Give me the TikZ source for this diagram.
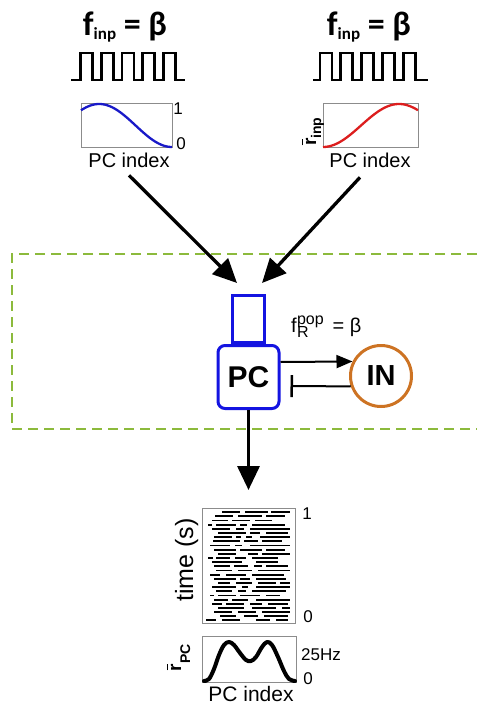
\documentclass[tikz,border=0pt]{standalone}
\usepackage{fontspec}
\setmainfont{Liberation Sans}
\newfontfamily\carlfont{Carlito}
\usetikzlibrary{arrows.meta}
\definecolor{pcblue}{RGB}{20,20,225}
\definecolor{curveblue}{RGB}{25,25,200}
\definecolor{curvered}{RGB}{220,30,30}
\definecolor{inorange}{RGB}{205,115,35}
\definecolor{boxgreen}{RGB}{140,186,60}
\newcommand\rbar{\leavevmode\rlap{\kern0.03em\rule[0.66em]{0.34em}{0.08em}}r}
\newcommand\fsz[1]{\fontsize{#1}{#1}\selectfont}
\begin{document}
\begin{tikzpicture}[x=1pt,y=-1pt,
  txt/.style={inner sep=0pt, outer sep=0pt},
  title/.style={txt, font=\carlfont\bfseries\fsz{34}},
  lab/.style={txt, font=\fsz{20}},
  tck/.style={txt, font=\fsz{17}},
  plotbox/.style={draw=black!45, line width=0.9pt, inner sep=0pt, outer sep=0pt},
  wave/.style={line width=2.8pt},
  bigarrow/.style={line width=3.3pt, -{Triangle[length=24pt,width=22pt]}},
  exc/.style={line width=2pt, -{Triangle[length=16pt,width=13pt]}},
  inh/.style={line width=2pt, -{Bar[width=22pt,line width=2.5pt]}},
  spike/.style={line width=1.9pt},
]
\useasboundingbox (0,0) rectangle (477,706);

% green dashed frame
\draw[boxgreen, line width=2.5pt, dash pattern=on 10pt off 6pt]
  (477,254) -- (12,254) -- (12,429) -- (477,429);

% titles
\node[title, anchor=base] (fL) at (125,36) {f\raisebox{-4pt}{\fsz{17}inp} = β};
\node[title, anchor=base] (fR) at (369,36) {f\raisebox{-4pt}{\fsz{17}inp} = β};

% square waves
\draw[wave] (71,80) foreach \a in {80.7,101.3,122,142.7,163.3} { -- (\a,80) -- (\a,53) -- (\a+12,53) -- (\a+12,80) } -- (185,80);
\draw[wave] (313,80) foreach \a in {320,340.7,361.7,382.3,403.3} { -- (\a,80) -- (\a,53) -- (\a+12,53) -- (\a+12,80) } -- (428,80);

% input profile plots
\node[plotbox, minimum width=91pt, minimum height=44pt] (boxL) at (126.5,125) {};
\node[plotbox, minimum width=95pt, minimum height=44pt] (boxR) at (370.5,125) {};
\draw[curveblue, line width=2.3pt] plot[domain=0:1, samples=60] ({81+91*\x},{147-43*(0.5+0.5*cos(225*(\x-0.2)))});
\draw[curvered, line width=2.3pt] plot[domain=0:1, samples=60] ({323+95*\x},{147-43*(0.5+0.5*cos(225*(0.8-\x)))});
\node[tck] (oneL) at (178,109) {1};
\node[tck] (zeroL) at (181,144) {0};
\node[txt, rotate=90, anchor=base west, font=\bfseries\fsz{19}] (rinp) at (316,146) {\rbar\raisebox{-5pt}{\fsz{14}inp}};
\node[lab] (pcL) at (129,160) {PC index};
\node[lab] (pcR) at (370,160) {PC index};

% PC cell and interneuron
\node[draw=pcblue, line width=3pt, minimum width=61pt, minimum height=63pt, rounded corners=7pt,
      inner sep=0pt, font=\bfseries\fsz{30}] (pc) at (248.5,377) {PC};
\node[draw=pcblue, line width=3pt, minimum width=32pt, minimum height=47pt, inner sep=0pt,
      anchor=south] (dend) at (pc.north) {};
\node[circle, draw=inorange, line width=3pt, minimum size=61pt, inner sep=0pt,
      font=\bfseries\fsz{29}] (in) at (381,376) {IN};
\node[txt, anchor=base west, font=\fsz{20}] (freq) at (291,332)
  {f\kern0.5pt\makebox[30pt][l]{\rlap{\raisebox{8pt}{\fsz{16}pop}}\raisebox{-5pt}{\fsz{16}R}} = β};

% input arrows
\coordinate (tipL) at (237,283);
\coordinate (tipR) at (262,283);
\draw[bigarrow] ([yshift=-8pt]pcL.south) -- (tipL);
\draw[bigarrow] ([xshift=-10pt,yshift=-10pt]pcR.south) -- (tipR);

% PC <-> IN
\draw[exc] ([yshift=15pt]pc.east) -- (in.153);
\draw[inh] (in.199) -- ([xshift=10pt,yshift=-9pt]pc.east);

% raster
\node[plotbox, minimum width=93pt, minimum height=115pt] (raster) at (248.5,565.5) {};
\draw[bigarrow] (pc.south) -- ([yshift=18pt]raster.north);
\foreach \yy/\segs in {
  512/{222/240,245/268,271/290},
  516/{215/233,238/262,266/285},
  520.5/{212/228,232/250,255/272},
  525/{208/212,216/236,240/247,252/285},
  529/{212/230,236/244,250/290},
  533/{218/246,250/260,266/288},
  537/{214/232,236/241,246/252,260/290},
  541/{213/240,244/258,262/282},
  545.5/{210/230,235/242,250/290},
  550/{214/236,240/262,266/285},
  554/{218/236,248/258,262/290},
  558/{208/213,216/230,235/246,252/278},
  562/{212/242,256/278},
  566/{214/230,234/248,254/262,266/288},
  570.5/{216/232,238/252,258/290},
  575/{210/220,226/246,252/284},
  579/{214/236,240/250,256/286},
  583/{218/230,236/252,258/276,280/290},
  587/{212/236,242/248,256/290},
  591/{216/232,238/246,252/286},
  595.5/{210/214,218/236,240/260,266/280},
  600/{214/228,232/248,256/290},
  604/{212/222,226/244,250/262,268/288},
  608/{218/244,252/276,282/290},
  612/{214/232,238/256,262/290},
  616/{220/236,244/258,264/288},
  620/{206/216,222/240,256/270,276/288}}
{ \foreach \a/\b in \segs { \draw[spike] (\a,\yy) -- (\b,\yy); } }
\node[tck] (oneB) at (307,514) {1};
\node[tck] (zeroB) at (308,617) {0};
\node[txt, rotate=90, anchor=base, font=\fsz{25}] (time) at (193,560) {time (s)};

% population rate
\node[plotbox, minimum width=94pt, minimum height=46pt] (rate) at (249,659) {};
\draw[line width=4pt, line cap=round, line join=round] plot[smooth, tension=0.6] coordinates
  {(204,681) (209,679) (214,669) (219,655) (224,645) (229,642) (234,645) (240,653) (246,660) (251,661)
   (256,657) (262,647) (267,642) (272,645) (278,657) (284,671) (289,679) (295,681)};
\node[tck] (hz) at (321,655) {25Hz};
\node[tck] (zeroR) at (308,679) {0};
\node[txt, rotate=90, anchor=base west, font=\bfseries\fsz{19}] (rpc) at (181,671) {\rbar\raisebox{-9pt}{\fsz{14}PC}};
\node[txt, font=\fsz{21}] (pcB) at (251,694) {PC index};
\end{tikzpicture}
\end{document}
